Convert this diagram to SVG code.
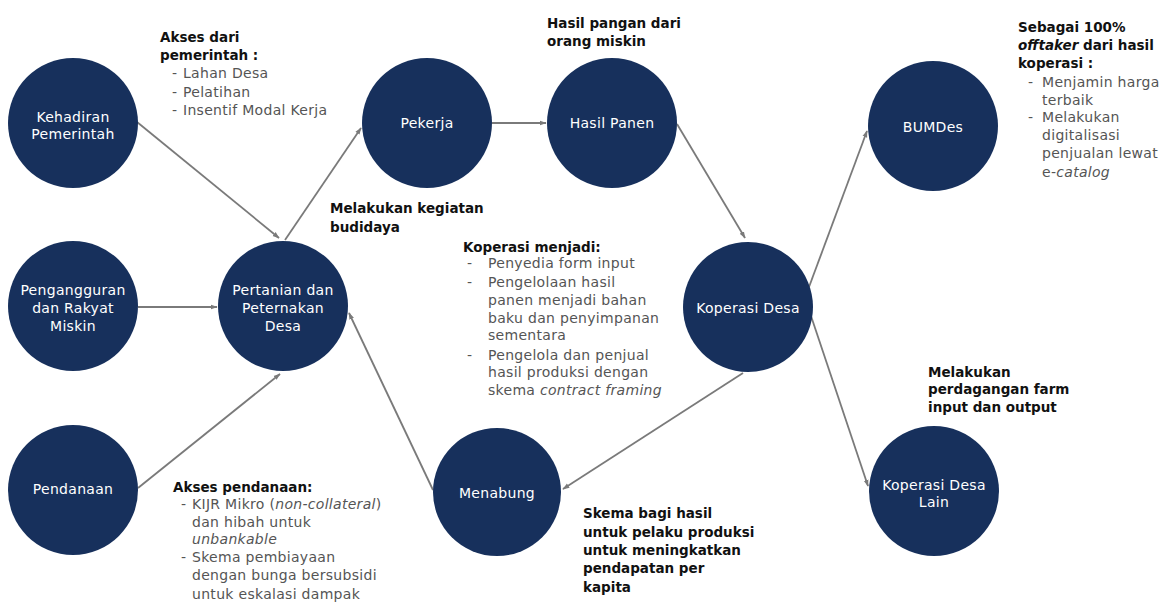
<svg xmlns="http://www.w3.org/2000/svg" width="1172" height="605" viewBox="0 0 1172 605">
<style>
.node{fill:#17305c;}
.nl{font-family:"DejaVu Sans",sans-serif;font-size:14px;letter-spacing:0.3px;fill:#ffffff;text-anchor:middle;}
.t{font-family:"DejaVu Sans",sans-serif;font-size:14px;letter-spacing:0.3px;fill:#555555;}
.b{font-family:"DejaVu Sans",sans-serif;font-size:13.5px;font-weight:bold;fill:#111111;}
.i{font-style:italic;}
.con{stroke:#7a7a7a;stroke-width:1.8;fill:none;marker-end:url(#arr);}
</style>
<defs>
<marker id="arr" viewBox="0 0 10 10" refX="9" refY="5" markerWidth="7" markerHeight="7" orient="auto" markerUnits="userSpaceOnUse">
<path d="M0,1.5 L10,5 L0,8.5 Z" fill="#7a7a7a"/>
</marker>
</defs>
<rect width="1172" height="605" fill="#ffffff"/>

<g id="connectors">
<line class="con" x1="137" y1="122" x2="279" y2="238"/>
<line class="con" x1="285" y1="240" x2="361" y2="128"/>
<line class="con" x1="138" y1="307" x2="217" y2="307"/>
<line class="con" x1="138" y1="488" x2="280" y2="374"/>
<line class="con" x1="433" y1="490" x2="349" y2="313"/>
<line class="con" x1="492" y1="123" x2="546" y2="123"/>
<line class="con" x1="677" y1="124" x2="745" y2="238"/>
<line class="con" x1="809" y1="287" x2="867" y2="131"/>
<line class="con" x1="810" y1="313" x2="868" y2="486"/>
<line class="con" x1="743" y1="373" x2="563" y2="489"/>
</g>

<g id="kehadiran">
<circle class="node" cx="73" cy="123" r="65"/>
<text class="nl" x="73" y="122">Kehadiran</text>
<text class="nl" x="73" y="139">Pemerintah</text>
</g>
<g id="pengangguran">
<circle class="node" cx="73" cy="306" r="65"/>
<text class="nl" x="73" y="295">Pengangguran</text>
<text class="nl" x="73" y="313">dan Rakyat</text>
<text class="nl" x="73" y="331">Miskin</text>
</g>
<g id="pendanaan">
<circle class="node" cx="73" cy="490" r="65"/>
<text class="nl" x="73" y="494">Pendanaan</text>
</g>
<g id="pertanian">
<circle class="node" cx="283" cy="306" r="65"/>
<text class="nl" x="283" y="295">Pertanian dan</text>
<text class="nl" x="283" y="313">Peternakan</text>
<text class="nl" x="283" y="331">Desa</text>
</g>
<g id="pekerja">
<circle class="node" cx="427" cy="123" r="65"/>
<text class="nl" x="427" y="128">Pekerja</text>
</g>
<g id="hasil-panen">
<circle class="node" cx="612" cy="123" r="65"/>
<text class="nl" x="612" y="128">Hasil Panen</text>
</g>
<g id="koperasi-desa">
<circle class="node" cx="748" cy="307" r="65"/>
<text class="nl" x="748" y="313">Koperasi Desa</text>
</g>
<g id="menabung">
<circle class="node" cx="497" cy="492" r="64"/>
<text class="nl" x="497" y="498">Menabung</text>
</g>
<g id="bumdes">
<circle class="node" cx="933" cy="126" r="65"/>
<text class="nl" x="933" y="132">BUMDes</text>
</g>
<g id="koperasi-desa-lain">
<circle class="node" cx="934" cy="491" r="65"/>
<text class="nl" x="934" y="490">Koperasi Desa</text>
<text class="nl" x="934" y="507">Lain</text>
</g>

<g id="label-akses-pemerintah">
<text class="b" x="160" y="42">Akses dari</text>
<text class="b" x="160" y="60">pemerintah :</text>
<text class="t" x="172" y="78">-</text><text class="t" x="183" y="78">Lahan Desa</text>
<text class="t" x="172" y="97">-</text><text class="t" x="183" y="97">Pelatihan</text>
<text class="t" x="172" y="115">-</text><text class="t" x="183" y="115">Insentif Modal Kerja</text>
</g>
<g id="label-hasil-pangan">
<text class="b" x="547" y="28">Hasil pangan dari</text>
<text class="b" x="547" y="46">orang miskin</text>
</g>
<g id="label-budidaya">
<text class="b" x="330" y="213">Melakukan kegiatan</text>
<text class="b" x="330" y="232">budidaya</text>
</g>
<g id="label-koperasi">
<text class="b" x="463" y="252">Koperasi menjadi:</text>
<text class="t" x="467" y="268">-</text><text class="t" x="488" y="268">Penyedia form input</text>
<text class="t" x="467" y="287">-</text><text class="t" x="488" y="287">Pengelolaan hasil</text>
<text class="t" x="488" y="305">panen menjadi bahan</text>
<text class="t" x="488" y="323">baku dan penyimpanan</text>
<text class="t" x="488" y="340">sementara</text>
<text class="t" x="467" y="360">-</text><text class="t" x="488" y="360">Pengelola dan penjual</text>
<text class="t" x="488" y="377">hasil produksi dengan</text>
<text class="t" x="488" y="395">skema <tspan class="i">contract framing</tspan></text>
</g>
<g id="label-bumdes">
<text class="b" x="1018" y="32">Sebagai 100%</text>
<text class="b" x="1018" y="50"><tspan class="i">offtaker</tspan> dari hasil</text>
<text class="b" x="1018" y="68">koperasi :</text>
<text class="t" x="1028" y="87">-</text><text class="t" x="1042" y="87">Menjamin harga</text>
<text class="t" x="1042" y="105">terbaik</text>
<text class="t" x="1028" y="122">-</text><text class="t" x="1042" y="122">Melakukan</text>
<text class="t" x="1042" y="140">digitalisasi</text>
<text class="t" x="1042" y="158">penjualan lewat</text>
<text class="t" x="1042" y="177">e-<tspan class="i">catalog</tspan></text>
</g>
<g id="label-perdagangan">
<text class="b" x="928" y="377">Melakukan</text>
<text class="b" x="928" y="394">perdagangan farm</text>
<text class="b" x="928" y="412">input dan output</text>
</g>
<g id="label-pendanaan">
<text class="b" x="173" y="492">Akses pendanaan:</text>
<text class="t" x="181" y="509">-</text><text class="t" x="192" y="509">KIJR Mikro (<tspan class="i">non-collateral</tspan>)</text>
<text class="t" x="192" y="527">dan hibah untuk</text>
<text class="t" x="192" y="544"><tspan class="i">unbankable</tspan></text>
<text class="t" x="181" y="562">-</text><text class="t" x="192" y="562">Skema pembiayaan</text>
<text class="t" x="192" y="580">dengan bunga bersubsidi</text>
<text class="t" x="192" y="599">untuk eskalasi dampak</text>
</g>
<g id="label-bagi-hasil">
<text class="b" x="583" y="518">Skema bagi hasil</text>
<text class="b" x="583" y="537">untuk pelaku produksi</text>
<text class="b" x="583" y="555">untuk meningkatkan</text>
<text class="b" x="583" y="573">pendapatan per</text>
<text class="b" x="583" y="592">kapita</text>
</g>
</svg>
